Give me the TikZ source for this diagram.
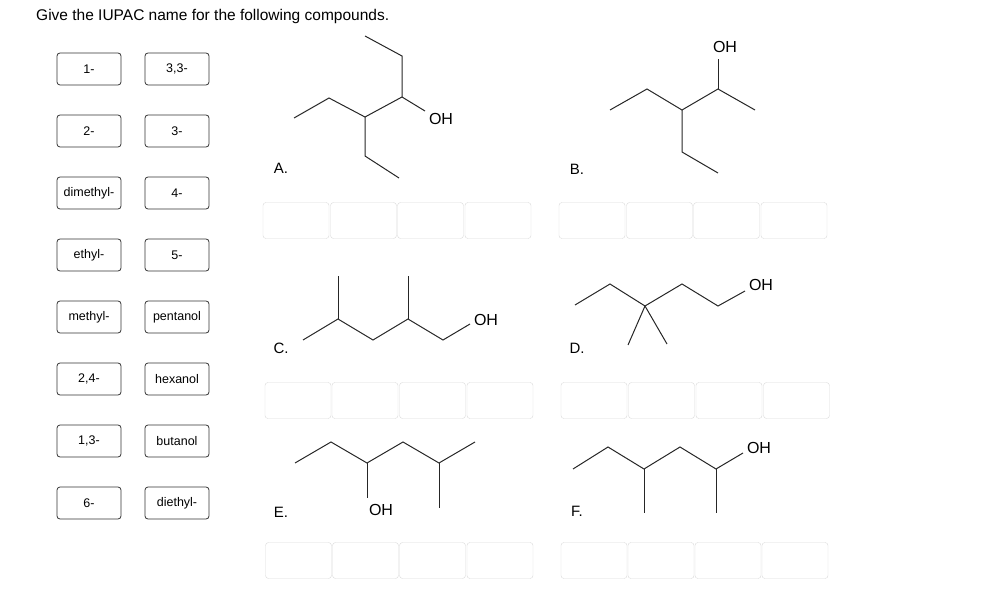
\documentclass[tikz,border=0pt]{standalone}
\usepackage{fontspec}
\setmainfont{Liberation Sans}
\begin{document}
\begin{tikzpicture}[x=1pt,y=-1pt,
  btn/.style={draw=black!80,line width=0.8pt,rounded corners=3pt,minimum width=64pt,minimum height=32pt,inner sep=0pt,font=\fontsize{12.5}{14}\selectfont},
  ans/.style={draw=black!15,rounded corners=3pt,minimum width=66pt,minimum height=36pt,inner sep=0pt},
  bond/.style={line width=1pt,black!85},
  lab/.style={font=\fontsize{15}{17}\selectfont,inner sep=0pt},
  oh/.style={font=\fontsize{16}{18}\selectfont,inner sep=0pt}]
\useasboundingbox (0,0) rectangle (983,596);
\node[anchor=west,font=\fontsize{15.5}{18}\selectfont,inner sep=0pt] (title) at (36,16) {Give the IUPAC name for the following compounds.};
% buttons
\foreach \a/\b [count=\i] in {1-/{3,3-},2-/3-,dimethyl-/4-,ethyl-/5-,methyl-/pentanol,{2,4-}/hexanol,{1,3-}/butanol,6-/diethyl-}{
  \node[btn] (l\i) at (89,{69+62*(\i-1)}) {\a};
  \node[btn] (r\i) at (177,{69+62*(\i-1)}) {\b};
}
% answer boxes
\foreach \x [count=\i] in {296,363.5,430.5,498}{\node[ans] (a\i) at (\x,220.5) {};}
\foreach \x [count=\i] in {592,659.5,726.5,794}{\node[ans] (b\i) at (\x,220.5) {};}
\foreach \x [count=\i] in {298,365,432.5,500}{\node[ans] (c\i) at (\x,400.5) {};}
\foreach \x [count=\i] in {594,661.5,729,796.5}{\node[ans] (d\i) at (\x,400.5) {};}
\foreach \x [count=\i] in {298.5,365.5,432.5,500}{\node[ans] (e\i) at (\x,560.5) {};}
\foreach \x [count=\i] in {594,661,728,795}{\node[ans] (f\i) at (\x,560.5) {};}
% labels
\node[lab] (LA) at (281,168) {A.};
\node[lab] (LB) at (577,169) {B.};
\node[lab] (LC) at (281,348) {C.};
\node[lab] (LD) at (577,348) {D.};
\node[lab] (LE) at (281,512) {E.};
\node[lab] (LF) at (577,511) {F.};
% A
\node[oh] (ohA) at (441,119) {OH};
\draw[bond] (294,118)--(329,98)--(365,117)--(402,97)--(402,56)--(365,36);
\draw[bond] (402,97)--(425,111);
\draw[bond] (365,117)--(365,156)--(399,178);
% B
\node[oh] (ohB) at (725,47) {OH};
\draw[bond] (610,110)--(647,89)--(682,110)--(718,89)--(755,110);
\draw[bond] (718,89)--(718,59);
\draw[bond] (682,110)--(682,152)--(718,173);
% C
\node[oh] (ohC) at (486,320) {OH};
\draw[bond] (303,340)--(338,319)--(373,340)--(408,319)--(443,340)--(470,324);
\draw[bond] (338,319)--(338,276);
\draw[bond] (408,319)--(408,276);
% D
\node[oh] (ohD) at (761,285) {OH};
\draw[bond] (575,305)--(610,284)--(645,306)--(682,284)--(718,306)--(745,291);
\draw[bond] (628,345)--(645,306)--(667,344);
% E
\node[oh] (ohE) at (381,510) {OH};
\draw[bond] (295,463)--(331,442)--(367,463)--(403,442)--(439,463)--(475,442);
\draw[bond] (367,463)--(367,498);
\draw[bond] (439,463)--(439,508);
% F
\node[oh] (ohF) at (759,448) {OH};
\draw[bond] (573,469)--(608,447)--(644,469)--(680,447)--(716,469)--(743,453);
\draw[bond] (644,469)--(644,513);
\draw[bond] (716,469)--(716,513);
\end{tikzpicture}
\end{document}
